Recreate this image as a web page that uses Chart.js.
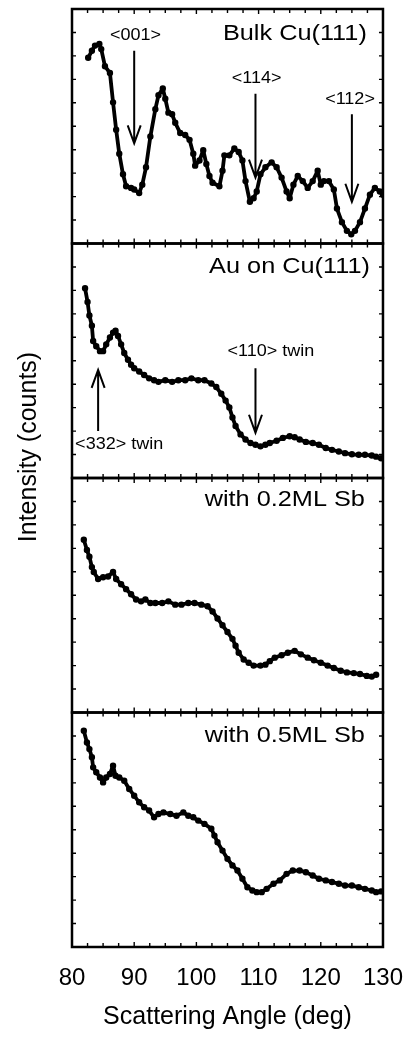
<!DOCTYPE html>
<html><head><meta charset="utf-8">
<script src="https://cdn.jsdelivr.net/npm/chart.js@4.4.0/dist/chart.umd.min.js"></script>
<style>html,body{margin:0;padding:0;background:#fff;}</style>
</head><body>
<canvas id="c" width="412" height="1039"></canvas>
<script>
// ---- data: [scattering angle (deg), intensity (panel-relative units 0..10)] ----
const bulkCu = [[82.6,7.92],[83.2,8.22],[83.7,8.44],[84.4,8.51],[84.7,8.29],[85.3,7.56],[86.1,7.27],[86.6,6.02],[87.1,4.85],[87.6,3.83],[88.2,2.95],[88.7,2.44],[89.5,2.37],[90.0,2.30],[90.8,2.15],[91.3,2.51],[91.9,3.25],[92.6,4.56],[93.4,5.73],[93.9,6.32],[94.6,6.61],[95.0,6.17],[95.5,5.58],[96.1,5.51],[96.6,5.15],[97.4,4.71],[98.2,4.63],[98.9,4.42],[99.5,3.83],[99.8,3.32],[100.5,3.54],[101.1,3.98],[101.6,3.39],[102.1,2.88],[102.6,2.59],[103.7,2.44],[104.2,3.10],[104.5,3.76],[105.3,3.76],[106.1,4.05],[106.8,3.90],[107.4,3.54],[107.9,2.66],[108.6,1.78],[109.2,1.93],[109.7,2.22],[110.3,2.95],[111.1,3.25],[112.1,3.46],[112.9,3.25],[113.7,2.81],[114.5,2.22],[115.0,1.93],[115.6,2.51],[116.3,2.88],[117.1,2.66],[117.9,2.37],[118.7,2.66],[119.5,3.10],[120.0,2.51],[120.5,2.66],[121.3,2.66],[122.1,2.30],[122.6,1.49],[123.4,0.91],[124.2,0.54],[124.9,0.39],[125.5,0.54],[126.3,0.91],[127.1,1.49],[127.9,2.08],[128.7,2.37],[129.5,2.22],[130.0,2.08]];
const auOnCu = [[82.1,8.09],[82.5,7.51],[82.8,6.93],[83.2,6.49],[83.4,5.84],[83.9,5.62],[84.5,5.41],[85.0,5.41],[85.5,5.70],[86.1,5.99],[86.6,6.20],[87.0,6.28],[87.4,6.06],[87.9,5.70],[88.4,5.33],[89.0,5.04],[89.5,4.83],[90.0,4.68],[90.8,4.54],[91.6,4.39],[92.4,4.25],[93.2,4.17],[93.9,4.10],[95.0,4.17],[96.1,4.10],[97.1,4.17],[98.2,4.17],[99.2,4.25],[100.3,4.17],[101.3,4.17],[102.4,4.03],[103.2,3.88],[104.0,3.59],[104.7,3.30],[105.3,3.01],[105.8,2.58],[106.3,2.22],[107.1,1.86],[107.9,1.64],[108.7,1.49],[109.5,1.42],[110.3,1.35],[111.1,1.42],[111.8,1.49],[112.9,1.59],[113.9,1.71],[115.0,1.78],[115.8,1.74],[116.6,1.64],[117.6,1.54],[118.7,1.49],[119.7,1.42],[120.8,1.28],[121.8,1.20],[122.9,1.13],[123.9,1.06],[125.0,1.01],[126.1,0.99],[127.1,0.99],[128.2,0.96],[128.9,0.91],[129.7,0.84]];
const sb02 = [[81.9,7.37],[82.4,6.93],[82.8,6.64],[83.2,6.20],[83.5,5.99],[84.2,5.69],[85.0,5.77],[85.8,5.80],[86.6,5.99],[87.1,5.69],[87.9,5.47],[88.7,5.26],[89.5,5.04],[90.3,4.82],[91.1,4.74],[91.8,4.82],[92.6,4.67],[93.4,4.67],[94.5,4.67],[95.5,4.74],[96.6,4.60],[97.6,4.60],[98.7,4.67],[99.7,4.67],[100.8,4.60],[101.8,4.53],[102.6,4.31],[103.4,4.01],[104.2,3.72],[105.0,3.43],[105.8,3.14],[106.3,2.85],[106.8,2.55],[107.6,2.26],[108.4,2.12],[109.2,2.00],[110.3,2.00],[111.1,2.04],[111.8,2.19],[112.6,2.34],[113.7,2.44],[114.7,2.55],[115.8,2.63],[116.8,2.48],[117.9,2.34],[118.9,2.23],[120.0,2.12],[121.1,2.00],[122.1,1.90],[123.2,1.78],[124.2,1.71],[125.3,1.68],[126.3,1.64],[127.4,1.56],[128.2,1.53],[128.9,1.61]];
const sb05 = [[81.9,9.22],[82.4,8.72],[82.8,8.44],[83.2,8.09],[83.4,7.66],[83.9,7.45],[84.5,7.23],[85.0,7.02],[85.5,7.23],[86.1,7.38],[86.6,7.73],[87.0,7.30],[87.6,7.23],[88.4,7.09],[89.2,6.74],[90.0,6.45],[90.8,6.17],[91.6,5.96],[92.4,5.82],[93.2,5.53],[93.9,5.67],[94.7,5.74],[95.8,5.67],[96.8,5.60],[97.9,5.74],[98.7,5.60],[99.5,5.53],[100.3,5.39],[101.3,5.25],[102.4,5.04],[102.9,4.75],[103.4,4.47],[104.2,4.11],[105.0,3.76],[105.8,3.48],[106.6,3.26],[107.4,2.91],[108.2,2.55],[109.0,2.41],[109.7,2.34],[110.5,2.34],[111.3,2.48],[112.4,2.70],[113.4,2.84],[114.5,3.12],[115.5,3.26],[116.6,3.26],[117.6,3.19],[118.7,3.05],[119.7,2.91],[120.8,2.84],[121.8,2.77],[122.9,2.70],[123.9,2.62],[125.0,2.62],[126.1,2.55],[127.1,2.48],[128.2,2.41],[128.9,2.34],[129.7,2.37]];

const panelNames = ['Bulk Cu(111)', 'Au on Cu(111)', 'with 0.2ML Sb', 'with 0.5ML Sb'];
const panelSeries = [bulkCu, auOnCu, sb02, sb05];
const xTickValues = [80, 90, 100, 110, 120, 130];

// annotation arrows (x in deg, from/to in panel units)
const arrowMarks = [
  {panel: 0, x: 90.0, from: 8.22, to: 4.27},
  {panel: 0, x: 109.5, from: 6.39, to: 2.81},
  {panel: 0, x: 125.0, from: 5.51, to: 1.78},
  {panel: 1, x: 84.2, from: 2.0, to: 4.61},
  {panel: 1, x: 109.5, from: 4.68, to: 1.93}
];
const arrowTexts = [
  {panel: 0, x: 90.2, y: 8.87, text: '<001>', align: 'center'},
  {panel: 0, x: 109.7, y: 7.05, text: '<114>', align: 'center'},
  {panel: 0, x: 124.7, y: 6.17, text: '<112>', align: 'center'},
  {panel: 1, x: 80.5, y: 1.45, text: '<332> twin', align: 'left'},
  {panel: 1, x: 105.0, y: 5.41, text: '<110> twin', align: 'left'}
];
const titlePos = [{x: 127.4, y: 8.95}, {x: 127.9, y: 8.99}, {x: 127.1, y: 9.05}, {x: 127.1, y: 9.0}];

const FONT = '"Liberation Sans", Arial, Helvetica, sans-serif';
const panelIds = ['p1', 'p2', 'p3', 'p4'];

function stretchText(ctx, text, x, y, size, align, sx) {
  ctx.save();
  ctx.translate(x, y);
  ctx.scale(sx, 1);
  ctx.font = size + 'px ' + FONT;
  ctx.textAlign = align;
  ctx.textBaseline = 'middle';
  ctx.fillStyle = '#000';
  ctx.fillText(text, 0, 0);
  ctx.restore();
}

const decor = {
  id: 'decor',
  afterDatasetsDraw(chart) {
    const ctx = chart.ctx, xs = chart.scales.x;
    const L = chart.chartArea.left, R = chart.chartArea.right;
    ctx.save();
    ctx.strokeStyle = '#000';
    panelIds.forEach((id, i) => {
      const s = chart.scales[id];
      const T = s.top, B = s.bottom;
      ctx.lineWidth = 1.4;
      ctx.beginPath();
      for (let a = 80; a <= 130; a += 2.5) {
        const px = xs.getPixelForValue(a);
        const len = (a % 10 === 0) ? 5 : 4;
        ctx.moveTo(px, T); ctx.lineTo(px, T + len);
        ctx.moveTo(px, B); ctx.lineTo(px, B - len);
      }
      for (let v = 1; v < 10; v++) {
        const py = s.getPixelForValue(v);
        ctx.moveTo(L, py); ctx.lineTo(L + 4, py);
        ctx.moveTo(R, py); ctx.lineTo(R - 4, py);
      }
      ctx.stroke();
      ctx.lineWidth = 2.5;
      ctx.strokeRect(L, T, R - L, B - T);
      stretchText(ctx, panelNames[i], xs.getPixelForValue(titlePos[i].x), s.getPixelForValue(titlePos[i].y), 22, 'right', 1.15);
    });
    ctx.lineWidth = 2;
    arrowMarks.forEach(a => {
      const s = chart.scales[panelIds[a.panel]];
      const px = xs.getPixelForValue(a.x);
      const y0 = s.getPixelForValue(a.from), y1 = s.getPixelForValue(a.to);
      const dir = y1 > y0 ? 1 : -1;
      ctx.beginPath();
      ctx.moveTo(px, y0); ctx.lineTo(px, y1);
      ctx.moveTo(px - 6.5, y1 - dir * 18); ctx.lineTo(px, y1); ctx.lineTo(px + 6.5, y1 - dir * 18);
      ctx.stroke();
    });
    arrowTexts.forEach(t => {
      const s = chart.scales[panelIds[t.panel]];
      stretchText(ctx, t.text, xs.getPixelForValue(t.x), s.getPixelForValue(t.y), 17, t.align, 1.06);
    });
    ctx.save();
    ctx.translate(29, 447);
    ctx.rotate(-Math.PI / 2);
    ctx.font = '25px ' + FONT;
    ctx.textAlign = 'center';
    ctx.textBaseline = 'middle';
    ctx.fillStyle = '#000';
    ctx.fillText('Intensity (counts)', 0, 0);
    ctx.restore();
    ctx.restore();
  }
};

function yPanel() {
  return {
    type: 'linear', position: 'left', stack: 'panels', stackWeight: 1,
    min: 0, max: 10,
    ticks: {display: false}, grid: {display: false}, border: {display: false},
    afterFit(s) { s.width = 72; }
  };
}

const scales = {
  x: {
    type: 'linear', min: 80, max: 130,
    afterBuildTicks(s) { s.ticks = xTickValues.map(v => ({value: v})); },
    ticks: {color: '#000', font: {family: FONT, size: 24}, padding: 9},
    grid: {display: false}, border: {display: false},
    title: {display: true, text: 'Scattering Angle (deg)', color: '#000', font: {family: FONT, size: 25}, padding: {top: 0, bottom: 7}},
    afterFit(s) { s.height = 92; }
  },
  p4: yPanel(), p3: yPanel(), p2: yPanel(), p1: yPanel()
};

new Chart(document.getElementById('c'), {
  type: 'scatter',
  data: {
    datasets: panelSeries.map((ser, i) => ({
      label: panelNames[i],
      data: ser.map(p => ({x: p[0], y: p[1]})),
      yAxisID: panelIds[i],
      showLine: true,
      borderColor: '#000', backgroundColor: '#000',
      borderWidth: 3.8, pointRadius: 1.3, pointHoverRadius: 1.3,
      borderJoinStyle: 'round', borderCapStyle: 'round',
      tension: 0
    }))
  },
  options: {
    responsive: false, animation: false,
    layout: {padding: {top: 9, right: 24, left: 0, bottom: 0}},
    plugins: {legend: {display: false}, tooltip: {enabled: false}},
    scales: scales
  },
  plugins: [decor]
});
</script>
</body></html>
